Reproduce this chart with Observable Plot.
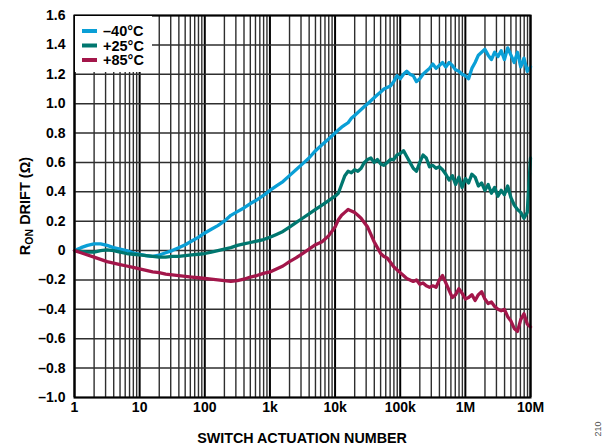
<!DOCTYPE html>
<html><head><meta charset="utf-8">
<script src="https://cdn.jsdelivr.net/npm/d3@7"></script>
<script src="https://cdn.jsdelivr.net/npm/@observablehq/plot@0.6"></script>
<style>body{margin:0;background:#fff} svg{font-family:"Liberation Sans",Arial,sans-serif}</style>
</head><body><div id="chart"></div><script>
// Sample positions as log10(switch actuation number)
const exponents = [
  0.0,0.1,0.2,0.3,0.4,0.5,0.6,0.7,0.8,0.9,
  1.0,1.1,1.2,1.3,1.4,1.5,1.6,1.7,1.8,1.9,
  2.0,2.1,2.2,2.3,2.4,2.5,2.6,2.7,2.8,2.9,
  3.0,3.1,3.2,3.3,3.4,3.5,3.6,3.7,3.8,3.9,
  4.0,
  4.05,4.1,4.15,4.2,4.25,4.3,4.35,4.4,4.45,4.5,
  4.55,4.6,4.65,4.7,4.75,4.8,4.85,4.9,4.95,5.0,
  5.05,5.1,5.15,5.2,5.25,5.3,5.35,5.4,5.45,5.5,
  5.55,5.6,5.65,5.7,5.75,5.8,5.85,5.9,5.95,6.0,
  6.05,6.1,6.15,6.2,6.25,6.3,6.35,6.4,6.45,6.5,
  6.55,6.6,6.65,6.7,6.75,6.8,6.85,6.9,6.95,7.0
];
const seriesNames = ["–40°C", "+25°C", "+85°C"];
const seriesColors = ["#0a9fd6", "#00776f", "#a3164a"];

const driftMinus40 = [
  0.00,0.02,0.035,0.045,0.045,0.035,0.02,0.01,0.0,-0.015,
  -0.025,-0.035,-0.04,-0.03,-0.015,0.0,0.02,0.04,0.065,0.09,
  0.12,0.145,0.17,0.20,0.24,0.265,0.29,0.32,0.345,0.375,
  0.41,0.44,0.47,0.51,0.55,0.59,0.63,0.68,0.72,0.76,
  0.80,
  0.82,0.84,0.855,0.87,0.90,0.92,0.94,0.96,0.98,1.0,
  1.02,1.04,1.06,1.08,1.10,1.11,1.12,1.15,1.19,1.17,
  1.20,1.22,1.20,1.19,1.15,1.17,1.20,1.22,1.24,1.27,
  1.24,1.26,1.28,1.25,1.28,1.26,1.23,1.22,1.20,1.19,
  1.17,1.24,1.28,1.33,1.35,1.37,1.33,1.30,1.35,1.32,
  1.36,1.30,1.38,1.33,1.28,1.35,1.25,1.31,1.22,1.25
];
const driftPlus25 = [
  0.0,-0.005,-0.01,-0.01,0.0,0.005,0.0,-0.01,-0.02,-0.025,
  -0.03,-0.035,-0.04,-0.045,-0.045,-0.04,-0.04,-0.035,-0.03,-0.025,
  -0.02,-0.01,0.0,0.01,0.02,0.035,0.045,0.055,0.065,0.075,
  0.09,0.11,0.13,0.16,0.19,0.22,0.25,0.28,0.31,0.34,
  0.37,
  0.39,0.45,0.51,0.54,0.53,0.55,0.54,0.56,0.60,0.62,
  0.63,0.60,0.62,0.59,0.58,0.60,0.62,0.62,0.65,0.66,
  0.68,0.64,0.60,0.56,0.54,0.60,0.65,0.63,0.57,0.58,
  0.56,0.57,0.55,0.52,0.48,0.51,0.45,0.50,0.43,0.49,
  0.46,0.52,0.50,0.44,0.46,0.41,0.45,0.39,0.43,0.37,
  0.41,0.38,0.44,0.36,0.31,0.28,0.26,0.22,0.26,0.63
];
const driftPlus85 = [
  0.0,-0.015,-0.03,-0.045,-0.06,-0.075,-0.085,-0.095,-0.105,-0.115,
  -0.125,-0.135,-0.145,-0.15,-0.16,-0.165,-0.17,-0.175,-0.18,-0.185,
  -0.19,-0.195,-0.20,-0.205,-0.21,-0.205,-0.195,-0.18,-0.17,-0.155,
  -0.145,-0.125,-0.105,-0.075,-0.05,-0.02,0.01,0.04,0.06,0.10,
  0.16,
  0.21,0.24,0.26,0.28,0.27,0.26,0.24,0.22,0.19,0.16,
  0.11,0.06,0.02,-0.02,-0.04,-0.05,-0.08,-0.11,-0.13,-0.15,
  -0.17,-0.19,-0.20,-0.21,-0.20,-0.23,-0.22,-0.24,-0.25,-0.24,
  -0.25,-0.20,-0.17,-0.22,-0.27,-0.32,-0.30,-0.26,-0.29,-0.33,
  -0.32,-0.30,-0.34,-0.30,-0.28,-0.33,-0.36,-0.35,-0.38,-0.40,
  -0.41,-0.40,-0.45,-0.48,-0.53,-0.55,-0.47,-0.43,-0.50,-0.52
];

const xTicks = [1, 10, 100, 1000, 10000, 100000, 1000000, 10000000];
const xTickLabels = ["1", "10", "100", "1k", "10k", "100k", "1M", "10M"];
const yTicks = [-1.0,-0.8,-0.6,-0.4,-0.2,0,0.2,0.4,0.6,0.8,1.0,1.2,1.4,1.6];
const yTickLabels = ["–1.0","–0.8","–0.6","–0.4","–0.2","0","0.2","0.4","0.6","0.8","1.0","1.2","1.4","1.6"];
const minorMultipliers = [2,3,4,5,6,7,8,9];

const allSeries = [driftMinus40, driftPlus25, driftPlus85];
const rows = [];
allSeries.forEach((vals, s) => vals.forEach((v, i) => rows.push({n: Math.pow(10, exponents[i]), drift: v, series: seriesNames[s]})));
const minorGrid = [];
xTicks.slice(0, -1).forEach(d => minorMultipliers.forEach(m => minorGrid.push(d * m)));
const xLabelMap = new Map(xTicks.map((d, i) => [d, xTickLabels[i]]));
const yLabelMap = new Map(yTicks.map((d, i) => [d, yTickLabels[i]]));

const font = "Liberation Sans, Arial, sans-serif";
const chart = Plot.plot({
  width: 608, height: 446,
  marginLeft: 74, marginRight: 78, marginTop: 15, marginBottom: 49,
  x: {type: "log", domain: [1, 1e7]},
  y: {domain: [-1, 1.6]},
  color: {domain: seriesNames, range: seriesColors},
  style: {fontFamily: font, fontSize: "14px", fontWeight: "bold", color: "#000", background: "#fff"},
  marks: [
    Plot.ruleX(minorGrid, {stroke: "#2e2e2e", strokeWidth: 1.4}),
    Plot.ruleX(xTicks, {stroke: "#000", strokeWidth: 2}),
    Plot.ruleY(yTicks, {stroke: "#2e2e2e", strokeWidth: 1.5}),
    Plot.line(rows, {x: "n", y: "drift", z: "series", stroke: "series", strokeWidth: 3.3, strokeLinejoin: "round"}),
    Plot.frame({stroke: "#000", strokeWidth: 2}),
    Plot.axisX(xTicks, {tickSize: 0, tickPadding: 5, tickFormat: d => xLabelMap.get(d), fontSize: 14, fontWeight: "bold", label: null}),
    Plot.axisY(yTicks, {tickSize: 0, tickPadding: 9, tickFormat: d => yLabelMap.get(d), fontSize: 14, fontWeight: "bold", label: null})
  ]
});
document.getElementById("chart").appendChild(chart);

const svg = d3.select(chart);
// legend
const lg = svg.append("g").attr("text-anchor", "start");
lg.append("rect").attr("x", 75).attr("y", 16).attr("width", 77).attr("height", 56).attr("fill", "#fff");
[31, 45.5, 60].forEach((yy, i) => {
  lg.append("line").attr("x1", 82).attr("x2", 97).attr("y1", yy).attr("y2", yy)
    .attr("stroke", seriesColors[i]).attr("stroke-width", 4);
  lg.append("text").attr("x", 103).attr("y", yy + 5).attr("text-anchor", "start")
    .style("font-size", "14.5px").style("font-weight", "bold")
    .attr("fill", "#000").text(seriesNames[i]);
});
// y axis label with subscript
const yl = svg.append("text").attr("transform", "translate(30,206) rotate(-90)")
  .attr("text-anchor", "middle").style("font-size", "14.5px").style("font-weight", "bold").attr("fill", "#000");
yl.append("tspan").text("R");
yl.append("tspan").style("font-size", "10.5px").attr("dy", 3).text("ON");
yl.append("tspan").attr("dy", -3).text(" DRIFT (Ω)");
// x axis label
svg.append("text").attr("x", 302).attr("y", 443).attr("text-anchor", "middle")
  .style("font-size", "14.3px").style("font-weight", "bold").attr("fill", "#000").text("SWITCH ACTUATION NUMBER");
// figure code
svg.append("text").attr("transform", "translate(601,429) rotate(-90)").attr("text-anchor", "middle")
  .style("font-size", "9px").style("font-weight", "normal").attr("fill", "#555").text("210");
</script></body></html>
